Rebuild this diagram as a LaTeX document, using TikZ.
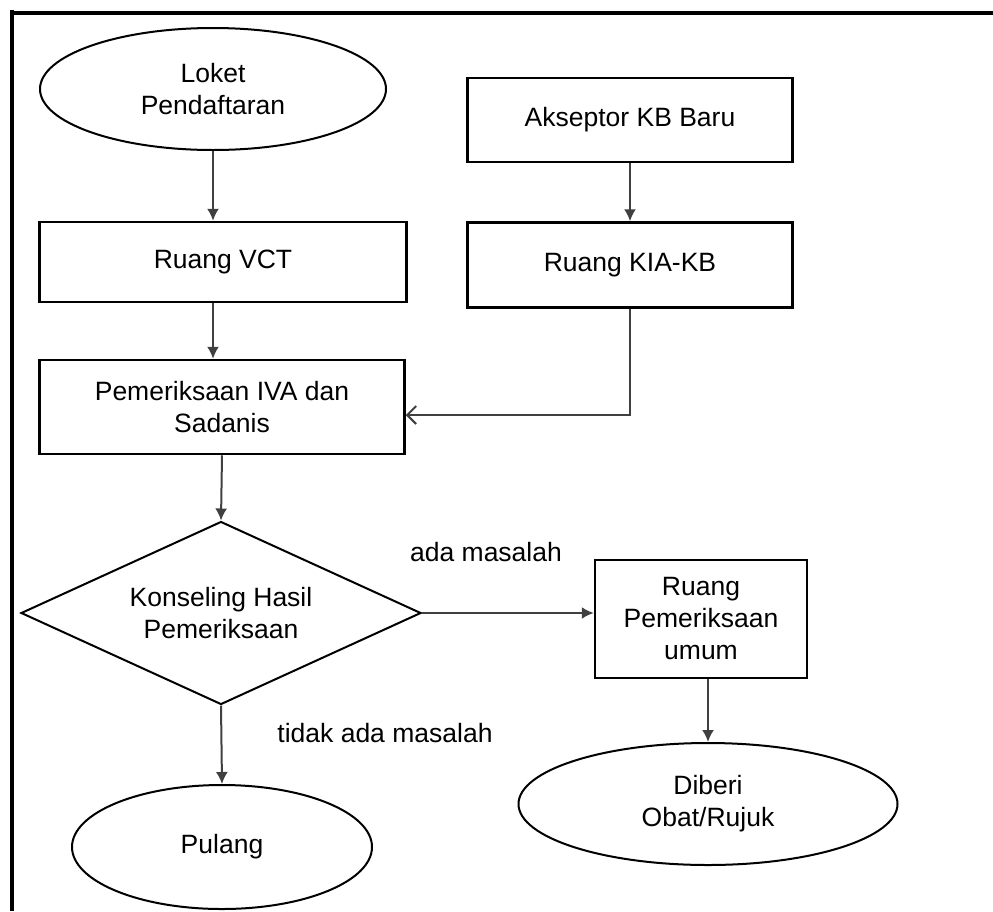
\documentclass[tikz,border=0pt]{standalone}
\usepackage{fontspec}
\setmainfont{Liberation Sans}
\usetikzlibrary{shapes.geometric,arrows.meta}

\begin{document}
\begin{tikzpicture}[x=1pt,y=-1pt,font=\fontsize{26.5}{32}\selectfont,
  kotak/.style={draw,line width=2.5pt,inner sep=0pt,align=center},
  elips/.style={draw,ellipse,line width=2pt,inner sep=0pt,align=center},
  panah/.style={draw=black!75,line width=2pt,-{Latex[length=12pt,width=12pt]}},
  panahbuka/.style={draw=black!75,line width=2pt,-{Straight Barb[length=9pt,width=18pt]}}]

\useasboundingbox (0,0) rectangle (993,911);

\begin{scope}
\coordinate (f1) at (10,13);
\coordinate (f2) at (993,13);
\coordinate (f3) at (12,10);
\coordinate (f4) at (12,911);
\draw[line width=4pt] (f1) -- (f2);
\draw[line width=4pt] (f3) -- (f4);
\end{scope}

\node[elips,minimum width=346pt,minimum height=122pt] (loket) at (213,89) {Loket\\Pendaftaran};
\node[kotak,minimum width=367pt,minimum height=80pt] (vct) at (223,262) {Ruang VCT};
\node[kotak,minimum width=365pt,minimum height=94pt] (iva) at (222,407) {Pemeriksaan IVA dan\\Sadanis};

\node[kotak,minimum width=325pt,minimum height=84pt] (akseptor) at (630,120) {Akseptor KB Baru};
\node[kotak,minimum width=325pt,minimum height=85pt] (kia) at (630,265) {Ruang KIA-KB};

\node[draw,diamond,aspect=2.2,line width=2pt,inner sep=0pt,align=center,
      minimum width=400pt,minimum height=183pt] (konseling) at (221,613) {Konseling Hasil\\Pemeriksaan};
\node[kotak,minimum width=212pt,minimum height=118pt] (umum) at (701,619) {Ruang\\Pemeriksaan\\umum};

\node[elips,minimum width=379pt,minimum height=122pt] (obat) at (708,804) {Diberi\\Obat/Rujuk};
\node[elips,minimum width=300pt,minimum height=124pt] (pulang) at (222,847) {Pulang};

\node (ada) at (486,552) {ada masalah};
\node (tidak) at (385,733) {tidak ada masalah};

\draw[panah] (loket.south) -- (loket.south |- vct.north);
\draw[panah] (loket.south |- vct.south) -- (loket.south |- iva.north);
\draw[panah] (akseptor.south) -- (kia.north);
\draw[panahbuka] (kia.south) |- ([yshift=-8pt]iva.east);
\draw[panah] (iva.south) -- (konseling.north);
\draw[panah] (konseling.east) -- (konseling.east -| umum.west);
\draw[panah] (obat.north |- umum.south) -- (obat.north);
\draw[panah] (konseling.south) -- (pulang.north);

\end{tikzpicture}
\end{document}
